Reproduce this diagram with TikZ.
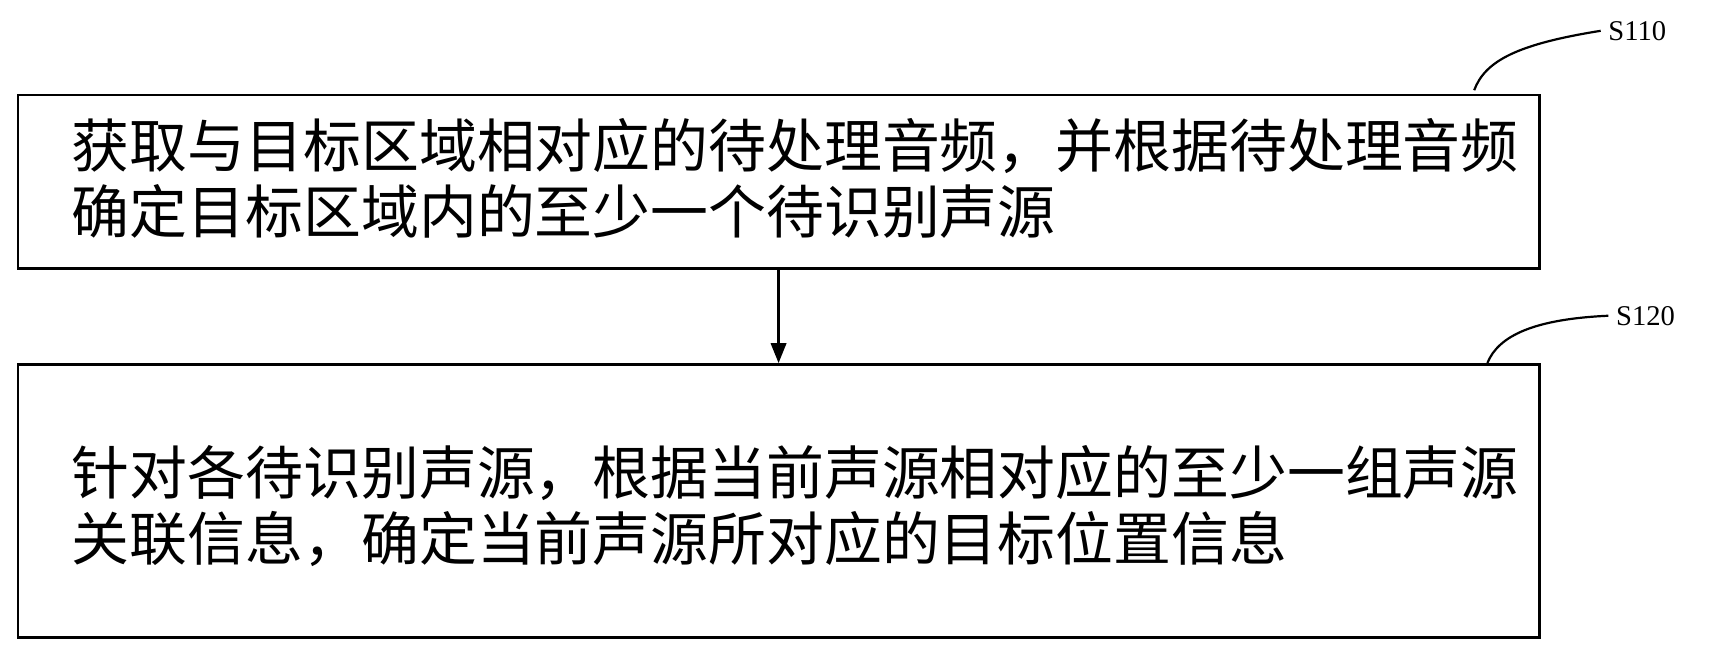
\documentclass[tikz,border=0pt]{standalone}
\usepackage{fontspec}
\newfontfamily\cjk{Noto Sans CJK SC}
\setmainfont{Liberation Serif}
\usetikzlibrary{arrows.meta}
\tikzset{
  stepbox/.style={draw, line width=1.2pt, minimum width=691.5pt},
  steptext/.style={anchor=west, inner sep=0pt, align=left,
    font=\cjk\fontsize{26.3}{30}\selectfont},
  steplabel/.style={font=\fontsize{13}{15}\selectfont, anchor=west}
}
\begin{document}
\begin{tikzpicture}[x=0.5pt,y=-0.5pt]
  \useasboundingbox (0,0) rectangle (1568,589);

  % Boxes
  \node[stepbox, minimum height=79pt, anchor=north west] (s110) at (15,85) {};
  \node[stepbox, minimum height=124pt, anchor=north west] (s120) at (15,330) {};
  \node[steptext] (t110) at (65,162)
    {获取与目标区域相对应的待处理音频，并根据待处理音频\\确定目标区域内的至少一个待识别声源};
  \node[steptext] (t120) at (65,460)
    {针对各待识别声源，根据当前声源相对应的至少一组声源\\关联信息，确定当前声源所对应的目标位置信息};

  % Arrow
  \draw[-{Triangle[length=9pt,width=7pt]}, line width=1pt] (s110.south) -- (s120.north);

  % Labels
  \node[steplabel] (l110) at (1455,28) {S110};
  \node[steplabel] (l120) at (1462,287) {S120};
  \draw[line width=1pt] (1340,82) .. controls (1350,55) and (1380,40) .. (l110.west);
  \draw[line width=1pt] (1352,330) .. controls (1362,305) and (1395,290) .. (l120.west);
\end{tikzpicture}
\end{document}
